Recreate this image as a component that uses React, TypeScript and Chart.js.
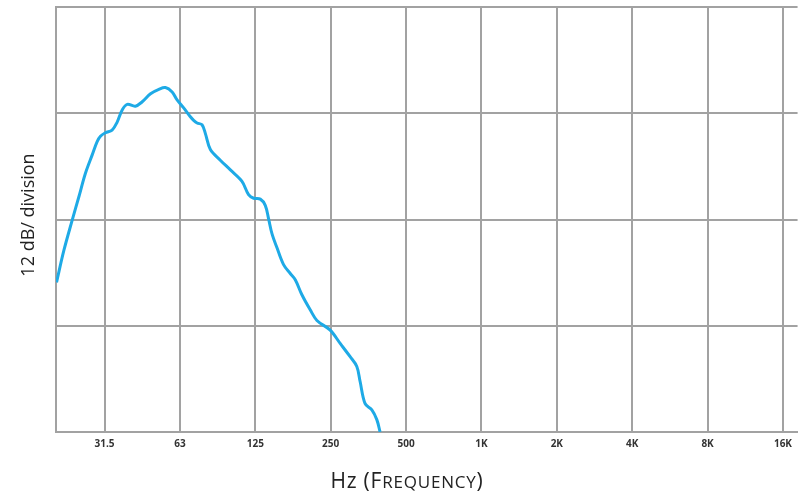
import React, { useEffect, useRef } from "react";
import { Chart, registerables } from "chart.js";

Chart.register(...registerables);

// Frequency (Hz)
const freqs = [
  20.1, 21.5, 23.2, 24.7, 26.2, 27.9, 29.2, 30.1, 31.5, 33.5, 35.1, 36.8, 38.5,
  41.5, 44.2, 47.7, 51.5, 54.7, 58.2, 60.9, 64.7, 68.8, 70.9, 73.2, 76.6, 79.0,
  82.7, 90.6, 99.4, 110.6, 117.5, 123.1, 130.9, 137.0, 141.2, 145.7, 152.6,
  162.1, 172.4, 180.5, 191.9, 207.1, 220.3, 248.9, 272.8, 299.0, 317.9, 327.7,
  343.2, 365.0, 382.1, 393.8,
];
// Level (dB above the bottom grid line)
const levels = [
  16.9, 20.5, 23.9, 26.6, 29.2, 31.3, 32.8, 33.4, 33.8, 34.1, 35.0, 36.4, 37.0,
  36.8, 37.3, 38.2, 38.7, 38.9, 38.4, 37.5, 36.6, 35.6, 35.2, 34.9, 34.7, 33.7,
  31.9, 30.7, 29.6, 28.3, 26.8, 26.4, 26.3, 25.6, 24.1, 22.4, 20.8, 18.9, 17.9,
  17.2, 15.5, 13.8, 12.6, 11.5, 10.0, 8.5, 7.4, 5.7, 3.2, 2.5, 1.4, 0.0,
];
// Octave-band ticks
const tickValues = [31.25, 62.5, 125, 250, 500, 1000, 2000, 4000, 8000, 16000];
const tickLabels = ["31.5", "63", "125", "250", "500", "1K", "2K", "4K", "8K", "16K"];
const yTicks = [0, 12, 24, 36, 48];

const GRID = "#a2a2a2";
const LINE = "#1eaae6";

const titlesPlugin = {
  id: "axisTitles",
  afterDraw(chart: any) {
    const ctx = chart.ctx as CanvasRenderingContext2D;
    ctx.save();
    ctx.fillStyle = "#222";
    ctx.textBaseline = "alphabetic";
    // x title in small caps
    const parts: [string, number][] = [
      ["Hz (F", 21],
      ["REQUENCY", 17],
      [")", 21],
    ];
    const fam = '"Open Sans", sans-serif';
    const spacing = 0.8;
    let total = 0;
    for (const [t, s] of parts) {
      ctx.font = `${s}px ${fam}`;
      total += ctx.measureText(t).width + spacing * t.length;
    }
    let x = 407 - total / 2;
    const base = 488;
    ctx.textAlign = "left";
    for (const [t, s] of parts) {
      ctx.font = `${s}px ${fam}`;
      for (const ch of t) {
        ctx.fillText(ch, x, base);
        x += ctx.measureText(ch).width + spacing;
      }
    }
    // y title
    ctx.translate(29, 215);
    ctx.rotate(-Math.PI / 2);
    ctx.font = `18px ${fam}`;
    ctx.textAlign = "center";
    ctx.textBaseline = "middle";
    ctx.fillText("12 dB/ division", 0, 0);
    ctx.restore();
  },
};

export default function App() {
  const ref = useRef<HTMLCanvasElement | null>(null);
  useEffect(() => {
    if (!ref.current) return;
    const chart = new Chart(ref.current, {
      type: "line",
      data: {
        datasets: [
          {
            data: freqs.map((f, i) => ({ x: f, y: levels[i] })),
            borderColor: LINE,
            borderWidth: 3,
            pointRadius: 0,
            tension: 0.35,
            fill: false,
          },
        ],
      },
      options: {
        animation: false,
        responsive: false,
        layout: { padding: { top: 7, left: 0, right: 0, bottom: 0 } },
        plugins: { legend: { display: false }, tooltip: { enabled: false } },
        scales: {
          x: {
            type: "logarithmic",
            min: 20,
            max: 18300,
            afterBuildTicks: (scale: any) => {
              scale.ticks = tickValues.map((v) => ({ value: v }));
            },
            afterFit: (scale: any) => {
              scale.height = 64;
            },
            grid: { color: GRID, lineWidth: 2, drawTicks: false },
            border: { color: GRID, width: 2 },
            ticks: {
              callback: (_v: any, i: number) => tickLabels[i],
              autoSkip: false,
              maxRotation: 0,
              padding: 6,
              color: "#333",
              font: { family: '"Open Sans", sans-serif', size: 10, weight: "bold" },
            },
          },
          y: {
            min: 0,
            max: 48,
            afterBuildTicks: (scale: any) => {
              scale.ticks = yTicks.map((v) => ({ value: v }));
            },
            afterFit: (scale: any) => {
              scale.width = 56;
            },
            grid: { color: GRID, lineWidth: 2, drawTicks: false },
            border: { color: GRID, width: 2 },
            ticks: { display: false },
          },
        },
      },
      plugins: [titlesPlugin],
    });
    return () => chart.destroy();
  }, []);
  return (
    <div style={{ position: "absolute", left: 0, top: 0, width: 798, height: 496, background: "#fff" }}>
      <canvas ref={ref} width={798} height={496} style={{ display: "block" }} />
    </div>
  );
}
